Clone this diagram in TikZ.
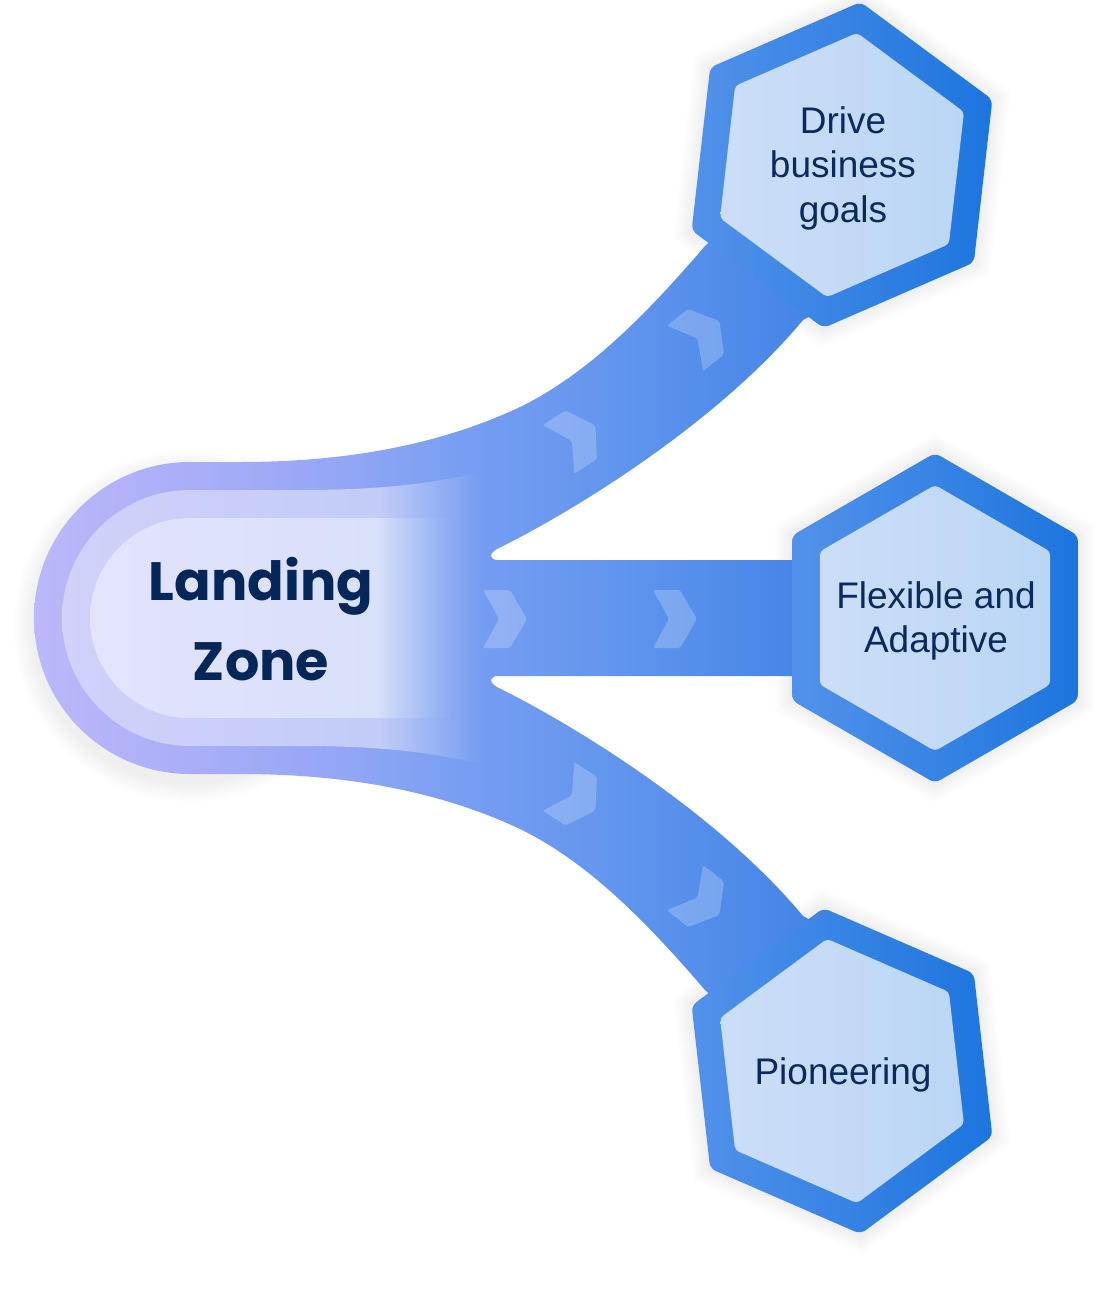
\documentclass[tikz,border=0pt]{standalone}
\usepackage{fontspec}
\newfontfamily\hexfont{Liberation Sans}
\newfontfamily\lzfont{Poppins}
\usetikzlibrary{calc}

\definecolor{txt}{rgb}{0.04,0.16,0.36}
\definecolor{lztxt}{rgb}{0.02,0.15,0.35}
\definecolor{hexL}{rgb}{0.32,0.57,0.92}
\definecolor{hexR}{rgb}{0.11,0.46,0.87}
\definecolor{inL}{rgb}{0.80,0.87,0.97}
\definecolor{inR}{rgb}{0.73,0.84,0.96}

\pgfdeclarehorizontalshading{bandshade}{100bp}{rgb(0bp)=(0.74,0.72,0.98); rgb(25bp)=(0.74,0.72,0.98); rgb(35.3bp)=(0.66,0.68,0.97); rgb(44.6bp)=(0.57,0.65,0.96); rgb(51.4bp)=(0.47,0.62,0.95); rgb(60.1bp)=(0.39,0.59,0.93); rgb(67.6bp)=(0.32,0.55,0.92); rgb(75bp)=(0.25,0.51,0.89); rgb(100bp)=(0.25,0.51,0.89)}
\pgfdeclarehorizontalshading{ringshade}{100bp}{rgb(0bp)=(0.82,0.82,0.98); rgb(25bp)=(0.82,0.82,0.98); rgb(63bp)=(0.76,0.80,0.97); rgb(75bp)=(0.459,0.616,0.947); rgb(100bp)=(0.459,0.616,0.947)}
\pgfdeclarehorizontalshading{innershade}{100bp}{rgb(0bp)=(0.89,0.89,0.99); rgb(25bp)=(0.89,0.89,0.99); rgb(64.6bp)=(0.85,0.88,0.98); rgb(75bp)=(0.549,0.671,0.954); rgb(100bp)=(0.549,0.671,0.954)}

\newcommand{\hexshape}[3]{([shift={({#2}:{#3})}]#1) \foreach \hk in {1,...,5}{ -- ([shift={({#2+60*\hk}:{#3})}]#1)} -- cycle}
\newcommand{\chevronpath}{(0,-29) -- (27,-29) -- (44,0) -- (27,29) -- (0,29) -- (16,0) -- cycle}

\tikzset{
  chev/.style={fill=white, fill opacity=0.22, rounded corners=2},
  hexouter/.style={left color=hexL, right color=hexR, rounded corners=6},
  hexinner/.style={left color=inL, right color=inR, rounded corners=4},
  hexshadow/.style={fill=black, opacity=0.007},
  hextext/.style={font=\hexfont\fontsize{37}{44.5}\selectfont, text=txt, align=center, inner sep=0pt},
  lztext/.style={font=\lzfont\bfseries\fontsize{54}{80}\selectfont, text=lztxt, align=center, inner sep=0pt}
}

\begin{document}
\begin{tikzpicture}[x=1pt,y=-1pt]
\useasboundingbox (0,0) rectangle (1111,1296);
\fill[white] (0,0) rectangle (1111,1296);

\coordinate (ht) at (842,165);
\coordinate (hm) at (935,618);
\coordinate (hb) at (842,1071);
\coordinate (lz) at (190,618);

% soft shadows
\foreach \s in {1,...,8}{
  \fill[hexshadow] ([yshift=-8pt]lz) circle[radius={156+2.5*\s}];
  \fill[hexshadow, yshift=-6pt] \hexshape{ht}{-83.5}{164+2.5*\s};
  \fill[hexshadow, yshift=-6pt] \hexshape{hm}{-90}{165+2.5*\s};
  \fill[hexshadow, yshift=-6pt] \hexshape{hb}{83.5}{164+2.5*\s};
}

% main band
\shade[shading=bandshade] (190,462) -- (240,462)
  .. controls (360,462) and (450,440) .. (520,407)
  .. controls (590,373) and (650,310) .. (705,246)
  -- (780,180) -- (840,300) -- (803,320)
  .. controls (720,420) and (580,508) .. (497,549)
  .. controls (488,554) and (490,560) .. (498,560)
  -- (810,560) -- (810,676) -- (498,676)
  .. controls (490,676) and (488,682) .. (497,687)
  .. controls (580,728) and (720,816) .. (803,916)
  -- (840,936) -- (780,1056) -- (705,990)
  .. controls (650,926) and (590,863) .. (520,829)
  .. controls (450,796) and (360,774) .. (240,774)
  -- (190,774) arc[start angle=90, end angle=270, radius=156] -- cycle;

% middle ring of the pill
\shade[shading=ringshade] (190,490) -- (300,490)
  .. controls (380,490) and (430,484) .. (480,472)
  -- (480,764)
  .. controls (430,752) and (380,746) .. (300,746)
  -- (190,746) arc[start angle=90, end angle=270, radius=128] -- cycle;

% inner pill
\shade[shading=innershade] (190,518) -- (450,518) -- (450,718) -- (190,718)
  arc[start angle=90, end angle=270, radius=100] -- cycle;

% chevrons
\fill[chev, shift={(483,619)}] \chevronpath;
\fill[chev, shift={(653,619)}] \chevronpath;
\fill[chev, shift={(558.5,449.5)}, rotate=33] \chevronpath;
\fill[chev, shift={(685,348.5)}, rotate=38.5] \chevronpath;
\fill[chev, shift={(558.5,786.5)}, rotate=-33] \chevronpath;
\fill[chev, shift={(685,887.5)}, rotate=-38.5] \chevronpath;

% hexagons
\shade[hexouter] \hexshape{ht}{-83.5}{164};
\shade[hexinner] \hexshape{ht}{-83.5}{133};
\shade[hexouter] \hexshape{hm}{-90}{165};
\shade[hexinner] \hexshape{hm}{-90}{133};
\shade[hexouter] \hexshape{hb}{83.5}{164};
\shade[hexinner] \hexshape{hb}{83.5}{133};

% texts
\node[lztext] (lzt) at (261,619) {Landing\\Zone};
\node[hextext] (t1) at (843,168) {Drive\\business\\goals};
\node[hextext] (t2) at (936,621) {Flexible and\\Adaptive};
\node[hextext] (t3) at (843,1075) {Pioneering};
\end{tikzpicture}
\end{document}
